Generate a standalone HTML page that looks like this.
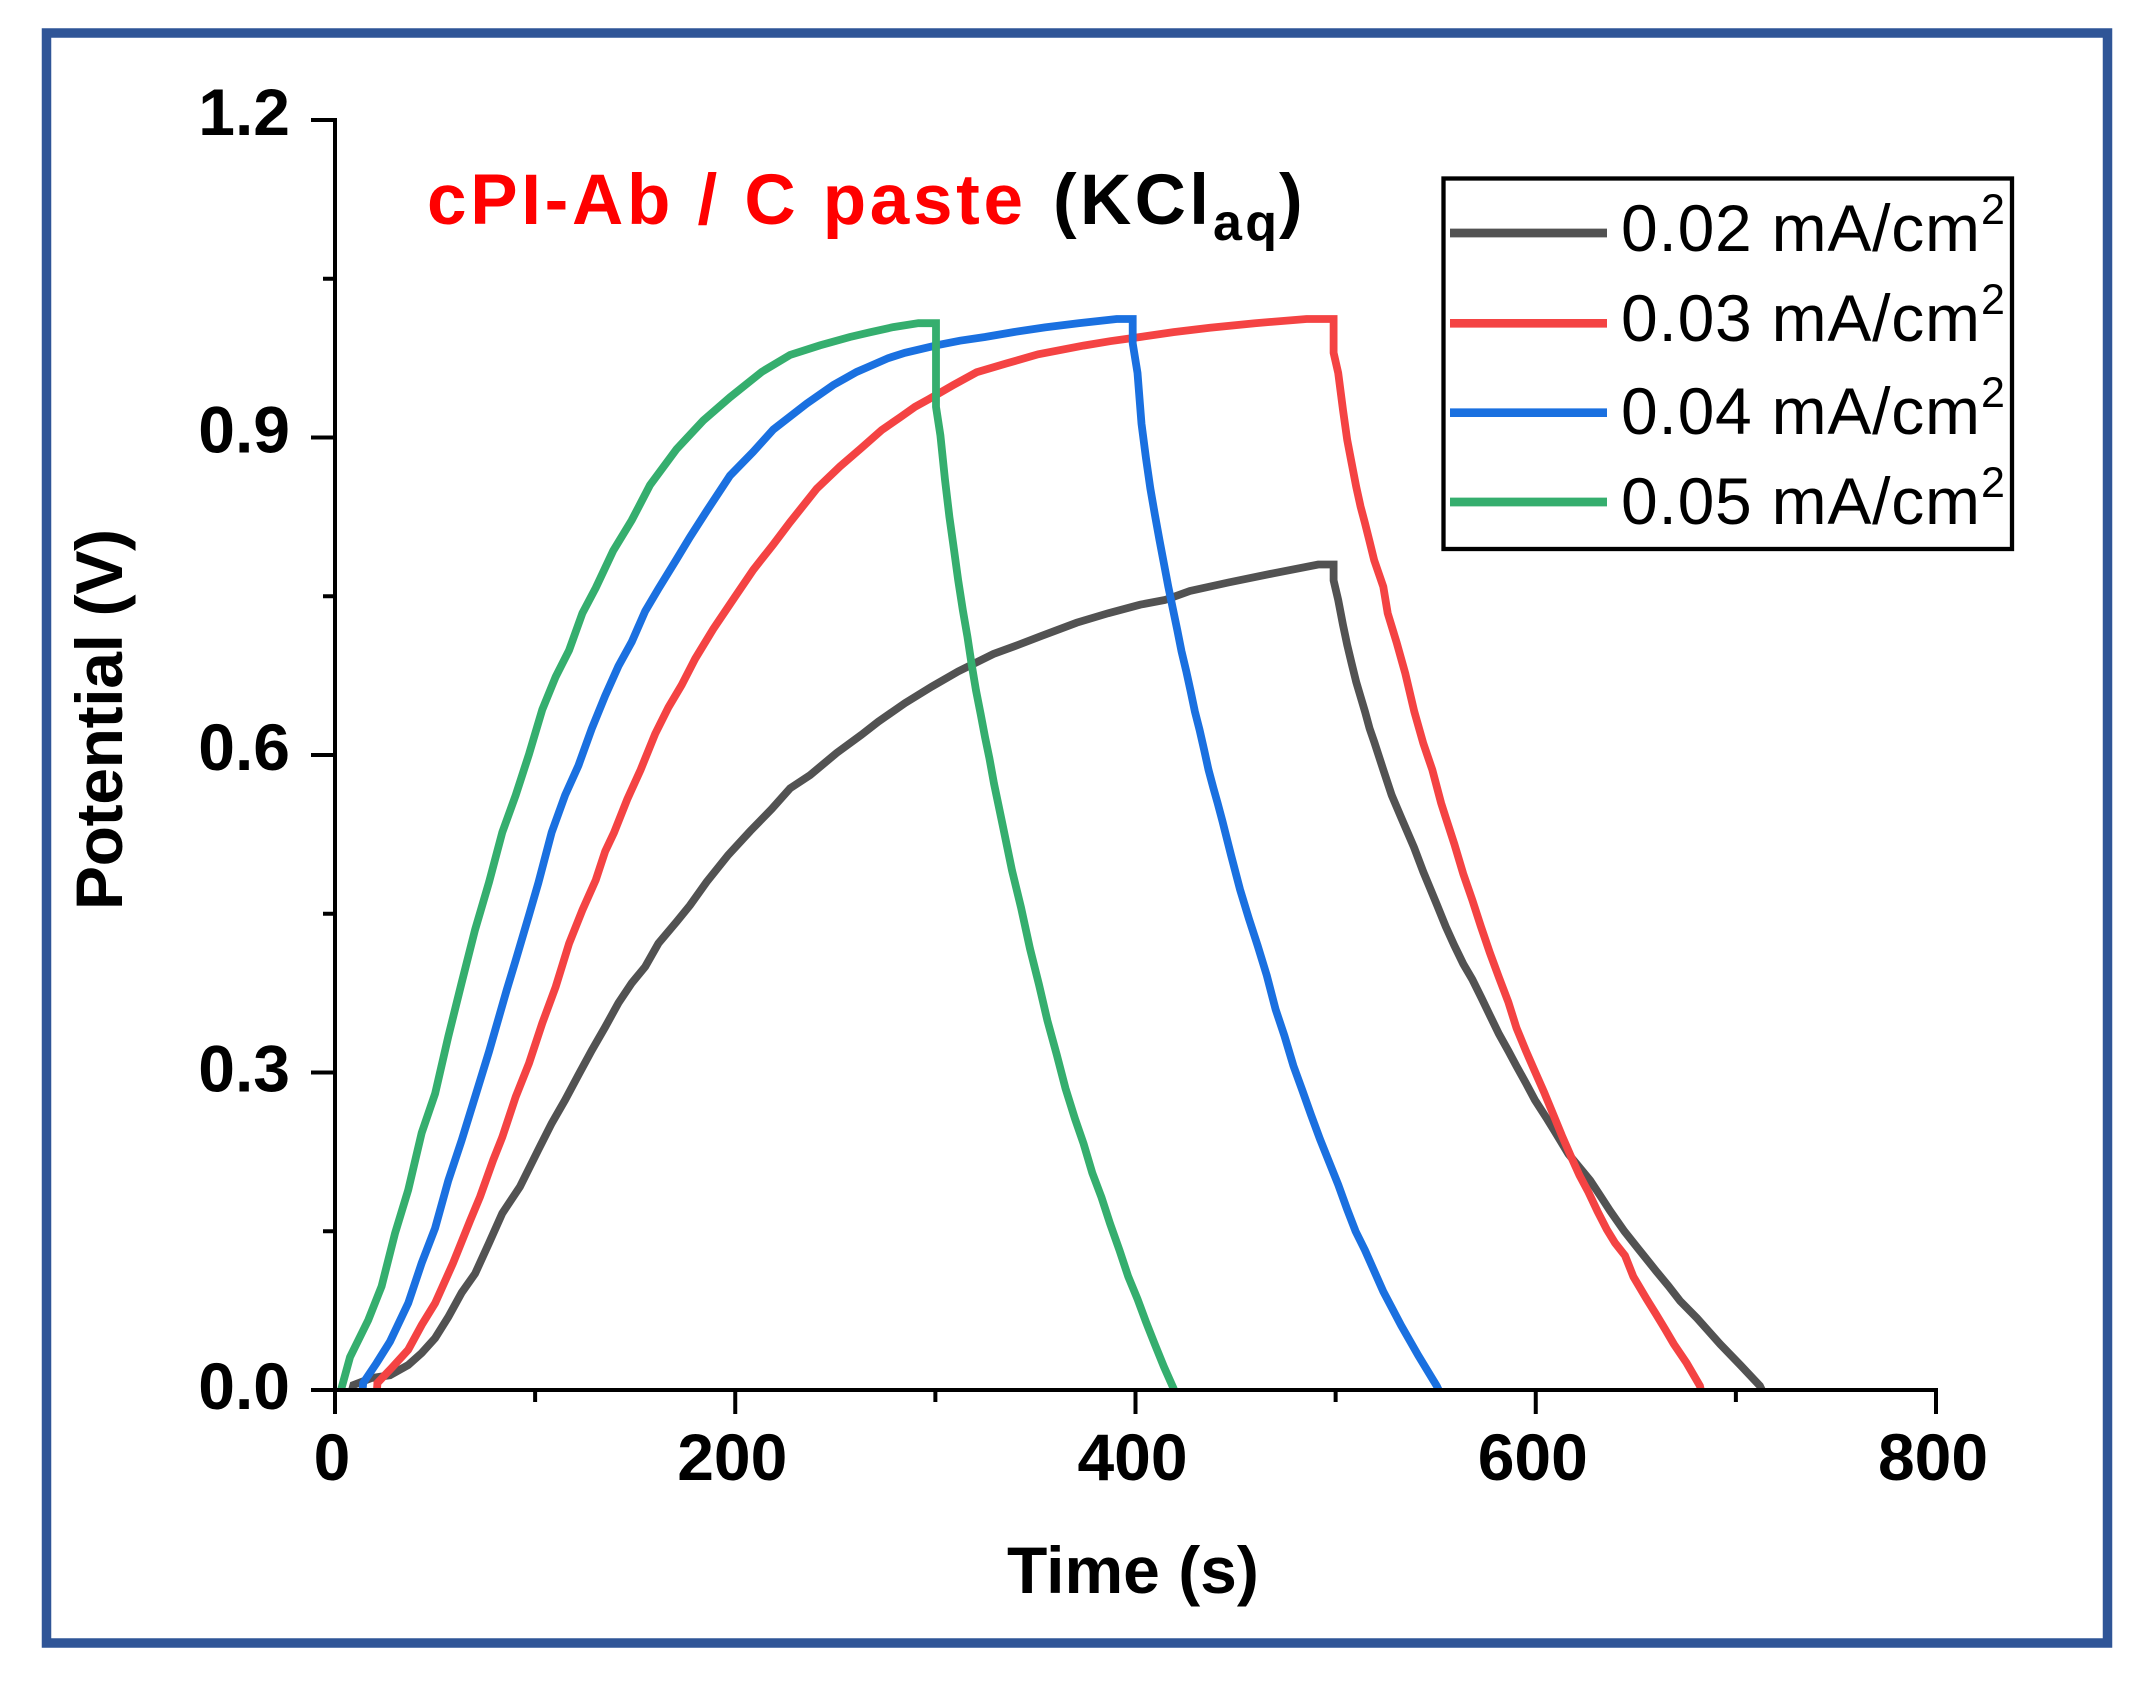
<!DOCTYPE html>
<html lang="en">
<head>
<meta charset="utf-8">
<title>Potential vs Time</title>
<style>
  html,body{margin:0;padding:0;background:#fff;}
  svg{display:block;}
  text{font-family:"Liberation Sans",Arial,sans-serif;fill:#000;}
  .b{font-weight:700;}
</style>
</head>
<body>
<svg id="chart" xmlns="http://www.w3.org/2000/svg" width="2155" height="1691" viewBox="0 0 2155 1691">
  <rect x="0" y="0" width="2155" height="1691" fill="#ffffff"/>
  <rect x="46.5" y="33" width="2061" height="1610" fill="none" stroke="#2F5597" stroke-width="9.5"/>
  <g id="series-layer"></g>
  <g id="axis-layer"></g>

  <text class="b" x="427" y="224" font-size="71" style="fill:#ff0000" textLength="596" lengthAdjust="spacing">cPI-Ab / C paste</text>
  <text class="b" x="1053" y="224" font-size="71" textLength="156" lengthAdjust="spacing">(KCl</text>
  <text class="b" x="1213" y="240" font-size="52" textLength="64" lengthAdjust="spacing">aq</text>
  <text class="b" x="1279" y="224" font-size="71">)</text>

  <text class="b" x="1007" y="1593" font-size="66">Time (s)</text>
  <text class="b" transform="translate(122,910) rotate(-90)" x="0" y="0" font-size="66" textLength="381" lengthAdjust="spacing">Potential (V)</text>

  <g id="legend">
    <rect x="1443.5" y="178.5" width="568.5" height="370.5" fill="#ffffff" stroke="#000" stroke-width="4.3"/>
  </g>
</svg>

<script>
// Chart data (time in s, potential in V)
const xTickValues = [0, 200, 400, 600, 800];
const xMinorTickValues = [100, 300, 500, 700];
const yTickValues = [0.0, 0.3, 0.6, 0.9, 1.2];
const yMinorTickValues = [0.15, 0.45, 0.75, 1.05];
const yTickLabels = ["0.0", "0.3", "0.6", "0.9", "1.2"];
const xTickLabels = ["0", "200", "400", "600", "800"];
const seriesNames = ["0.02 mA/cm", "0.03 mA/cm", "0.04 mA/cm", "0.05 mA/cm"];

const grayTime = [
8.5,9.2,18.3,27.5,36.6,43.3,50,56.6,63.3,70,
77,83.6,92.4,101.6,108.3,115,121.6,128.3,135,141.6,
148.3,155,161.6,170.7,177.4,185.7,196.5,207.4,218.2,227.4,
237.4,250.7,263,271.5,284.8,298.2,311.4,329,341.4,353.1,
370.6,386.4,402.3,414.7,427.2,446.4,468.9,491.3,499,499,
501.3,503.7,505.8,508,510.3,512.5,514.7,517,519.3,523.8,
528,532.7,539.2,543.8,550.5,555,559.3,563.8,568.3,573,
577.1,581.6,586.3,590.4,595.1,599.6,605.5,609.6,616.3,627.2,
632.2,637.1,644.3,651,660.1,666.3,672.2,680.5,686.3,692.1,
702.2,712,713];
const grayPotential = [
0,.0047,.0113,.014,.0236,.035,.049,.069,.092,.11,
.139,.167,.192,.227,.252,.274,.2976,.321,.343,.3657,
.3846,.4,.422,.4425,.458,.48,.5055,.528,.549,.5685,
.581,.602,.619,.6315,.649,.6646,.679,.6954,.704,.7125,
.725,.734,.742,.7465,.755,.763,.7717,.78,.78,.765,
.7465,.7228,.704,.6866,.669,.655,.641,.625,.6125,.586,
.562,.541,.5125,.4895,.459,.438,.42,.4025,.388,.37,
.354,.3365,.3205,.306,.29,.274,.2565,.244,.223,.198,
.1837,.1694,.15,.134,.1125,.0984,.084,.068,.0557,.0434,
.0236,.004,0];

const redTime = [
21,21.2,28.3,36.6,43.3,50,59,67.5,72.5,79,
83.6,90.3,97,103.6,110.3,117,123.6,130.3,135,139.4,
146,152.7,160,166.6,173.2,180,189,200,209,219,
227.4,240.7,252.3,263,273.2,282.3,289.8,296.5,309,320.6,
335.6,351.4,374,387.3,402.3,419,437.2,459.7,485.5,499,
499,501.3,503.7,505.8,508,510.3,512.5,514.7,517,519.3,
523.8,526,530.5,534.8,539.3,543.8,548.3,552.7,555,559.3,
563.8,568.3,572.6,577.1,581.6,586.3,590.4,595.1,599.6,604.1,
608.8,613,617.5,621.8,626.3,630.8,635.5,639.6,644.6,648.8,
655.4,660,664.6,669,675.4,682,682.5];
const redPotential = [
0,.0066,.0208,.038,.0614,.082,.12,.16,.1827,.217,
.239,.277,.309,.3467,.381,.422,.4535,.482,.509,.5266,
.558,.586,.62,.645,.666,.691,.719,.75,.775,.799,
.82,.8516,.8726,.89,.907,.919,.929,.936,.9496,.9616,
.97,.9786,.9868,.991,.995,.9996,1.0037,1.008,1.012,1.012,
.98,.961,.926,.8977,.876,.8535,.8346,.819,.8016,.784,
.759,.734,.706,.677,.641,.611,.586,.5546,.541,.516,
.4876,.463,.438,.413,.39,.3666,.342,.3205,.301,.2816,
.26,.2406,.221,.203,.187,.169,.1517,.139,.127,.107,
.086,.072,.0576,.0435,.0255,.004,0];

const blueTime = [
13.8,14.1,20.8,27.5,36.6,43.3,50,56.6,63.3,70,
77,85.8,90.3,97,101.6,108.3,115,121.6,128.3,135,
141.6,148.3,155,161.6,170.7,177.4,185.7,197.4,209,219,
235.7,249,260.7,265.7,276.5,284.8,301.5,312.3,324.8,339,
354.8,371.4,390.6,398.6,398.6,401,403,405.2,407.4,409.7,
412,414,416.4,418.6,420.9,423,425.4,427.6,429.7,432,
434.3,436.5,438.9,441,443.4,447.7,452.2,456.7,461,465.6,
470,474.4,478.9,483.3,487.7,492.2,496.7,501.3,505.7,510,
514.7,523.8,532.7,541.3,550.5,551.5];
const bluePotential = [
0,.0066,.0255,.0457,.082,.12,.153,.198,.236,.277,
.32,.378,.406,.449,.479,.527,.562,.59,.625,.656,
.684,.707,.736,.757,.785,.806,.8305,.864,.8866,.9076,
.932,.9496,.962,.966,.975,.98,.9875,.9915,.995,.9996,
1.004,1.008,1.012,1.012,.989,.961,.913,.881,.852,.827,
.803,.783,.759,.739,.718,.698,.679,.66,.641,.624,
.605,.586,.569,.5546,.5376,.5055,.473,.445,.42,.3917,
.3596,.3348,.3063,.2835,.26,.237,.2157,.194,.171,.15,
.132,.093,.061,.0326,.004,0];

const greenTime = [
3,7.5,16.6,23.3,30,36.6,43.3,50,56.6,63.3,
70,77,83.6,90.3,97,103.6,110.3,117,123.6,130.3,
139,148.3,157.4,170.7,184,197.4,213.2,227.4,242.3,257.3,
267.3,279,291.5,300.3,300.3,302.5,304.8,307,309.3,311.4,
313.7,316,318,320.3,322.6,324.8,327,329.3,331.4,333.6,
338.3,342.8,347.3,351.8,356,360.6,365,369.7,374,378.4,
383,387.3,392,396.4,401,405.2,409.7,414.2,418.9,419.3];
const greenPotential = [
0,.031,.066,.098,.148,.189,.243,.28,.334,.385,
.435,.48,.527,.562,.601,.643,.674,.699,.734,.758,
.793,.822,.855,.889,.916,.938,.962,.978,.987,.995,
.9994,1.0043,1.008,1.008,.929,.902,.86,.825,.794,.765,
.737,.712,.687,.661,.639,.617,.597,.573,.554,.534,
.491,.456,.417,.383,.349,.317,.285,.2565,.233,.205,
.182,.157,.132,.107,.086,.0645,.043,.022,.002,0];

const seriesTimes = [grayTime, redTime, blueTime, greenTime];
const seriesPotentials = [grayPotential, redPotential, bluePotential, greenPotential];
const seriesColors = ["#525252", "#F44343", "#1A70E0", "#35AE6E"];
const seriesKeys = ["gray", "red", "blue", "green"];

const xAxisMax = 800;
const yAxisMax = 1.2;
const plotLeft = 335, plotRight = 1936, plotTop = 120, plotBottom = 1390;
function xScale(t){ return plotLeft + (t / xAxisMax) * (plotRight - plotLeft); }
function yScale(v){ return plotBottom - (v / yAxisMax) * (plotBottom - plotTop); }

const NS = "http://www.w3.org/2000/svg";
function make(parent, tag, attrs, txt){
  const el = document.createElementNS(NS, tag);
  for (const k in attrs) el.setAttribute(k, attrs[k]);
  if (txt !== undefined) el.textContent = txt;
  parent.appendChild(el);
  return el;
}

const seriesLayer = document.getElementById("series-layer");
seriesTimes.forEach(function(times, i){
  const pts = times.map(function(t, j){
    return xScale(t).toFixed(1) + "," + yScale(seriesPotentials[i][j]).toFixed(1);
  }).join(" ");
  const line = make(seriesLayer, "polyline", {points: pts, fill: "none", stroke: seriesColors[i], "stroke-width": 7.8, "stroke-linejoin": "miter", "stroke-miterlimit": 4});
  
  
});

const axisLayer = document.getElementById("axis-layer");
const yAxisLine = make(axisLayer, "line", {x1: plotLeft, x2: plotLeft, y1: plotTop - 2, y2: plotBottom + 24, stroke: "#000", "stroke-width": 4});


const xAxisLine = make(axisLayer, "line", {x1: plotLeft - 24, x2: plotRight + 2, y1: plotBottom, y2: plotBottom, stroke: "#000", "stroke-width": 4});



xTickValues.forEach(function(v, i){
  const x = xScale(v);
  const tick = make(axisLayer, "line", {x1: x, x2: x, y1: plotBottom, y2: plotBottom + 24, stroke: "#000", "stroke-width": 4});
  
  
  const label = make(axisLayer, "text", {x: x - 3, y: 1480, "text-anchor": "middle", "font-size": 66, "class": "b"}, xTickLabels[i]);
  
  
});
xMinorTickValues.forEach(function(v){
  const x = xScale(v);
  const tick = make(axisLayer, "line", {x1: x, x2: x, y1: plotBottom, y2: plotBottom + 12, stroke: "#000", "stroke-width": 4});
  
  
});
yTickValues.forEach(function(v, i){
  const y = yScale(v);
  const tick = make(axisLayer, "line", {x1: plotLeft - 24, x2: plotLeft, y1: y, y2: y, stroke: "#000", "stroke-width": 4});
  
  
  const label = make(axisLayer, "text", {x: 290, y: y + (v >= 0.6 ? 15 : 19), "text-anchor": "end", "font-size": 66, "class": "b"}, yTickLabels[i]);
  
  
});
yMinorTickValues.forEach(function(v){
  const y = yScale(v);
  const tick = make(axisLayer, "line", {x1: plotLeft - 12, x2: plotLeft, y1: y, y2: y, stroke: "#000", "stroke-width": 4});
  
  
});

const legend = document.getElementById("legend");
const legendSwatchY = [233, 323.3, 412.7, 502];
const legendBaseY = [251, 341, 434, 524];
seriesNames.forEach(function(name, i){
  const swatch = make(legend, "line", {x1: 1450, x2: 1607, y1: legendSwatchY[i], y2: legendSwatchY[i], stroke: seriesColors[i], "stroke-width": 8.7});
  
  
  const label = make(legend, "text", {x: 1621, y: legendBaseY[i], "font-size": 66, textLength: 359, lengthAdjust: "spacing"}, name);
  
  
  const sup = make(legend, "text", {x: 1981, y: legendBaseY[i] - 27, "font-size": 43}, "2");
  
  
});
</script>
</body>
</html>
